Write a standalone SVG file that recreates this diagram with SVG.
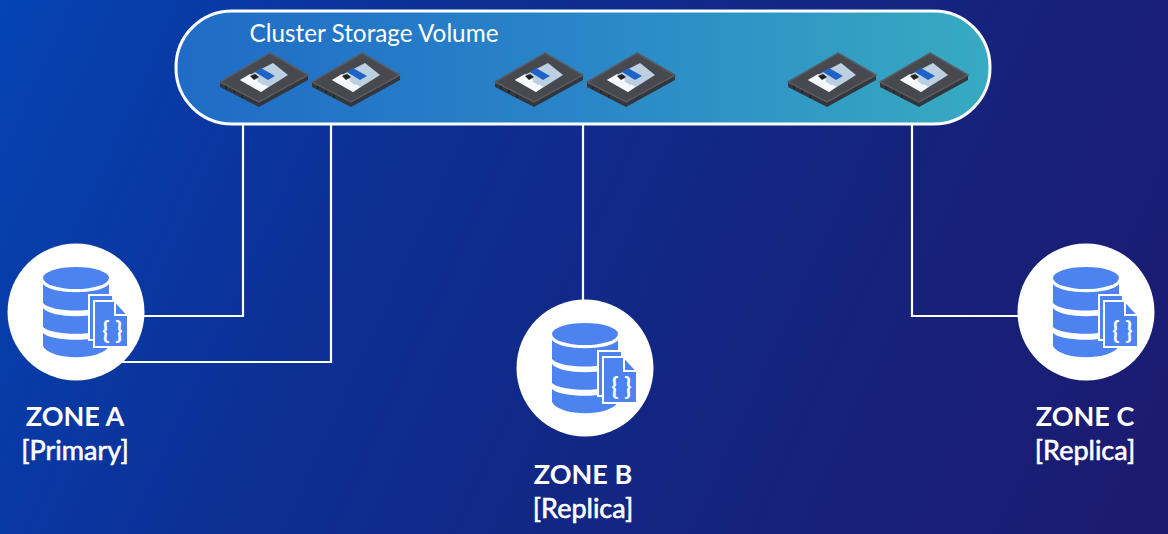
<svg xmlns="http://www.w3.org/2000/svg" xmlns:xlink="http://www.w3.org/1999/xlink" width="1168" height="534" viewBox="0 0 1168 534">
<style>
.t{font-family:Lato,"Liberation Sans",sans-serif;fill:#fff;text-anchor:middle}
.z{font-size:27px;font-weight:700}
.r{font-size:27px;font-weight:400;stroke:#fff;stroke-width:.6px}
.l{fill:none;stroke:#fff;stroke-width:2.2}
</style>
<defs>
<linearGradient id="bg" x1="0" y1="0" x2="1168" y2="534" gradientUnits="userSpaceOnUse"><stop offset="0" stop-color="#0544b4"/><stop offset=".3" stop-color="#0c3096"/><stop offset=".65" stop-color="#14247f"/><stop offset="1" stop-color="#1d1a70"/></linearGradient>
<linearGradient id="pill" x1="176" y1="0" x2="990" y2="0" gradientUnits="userSpaceOnUse"><stop offset="0" stop-color="#1f6bc6"/><stop offset=".5" stop-color="#2a86c8"/><stop offset="1" stop-color="#37abc1"/></linearGradient>
<g id="ssd">
<path d="M-44 2V7L-5 27 44 0V-5Z" fill="#33373d"/>
<path d="M6 -27L44 -5-5 22-44 2Z" fill="#48494e" stroke="#5a5c62" stroke-width="1.5"/>
<path d="M9 -17L24 -5-3 12-24 0Z" fill="#bcd0e2"/>
<path d="M-24 0L-14 -6 4 7-3 12Z" fill="#f6f8fb"/>
<path d="M-9 -8L-3 -12 11 -4 4 0Z" fill="#1f62c8"/>
<path d="M-14 -4L-9 -6-5 -3-10 0Z" fill="#222"/>
<path d="M-7 1L-3 -1 3 3-1 5Z" fill="#b9cfe2"/>
<path d="M-38 6V9M-30 10V13M-22 15V18" stroke="#1f2226" stroke-width="1.500"/>
</g>
<g id="db">
<circle r="68.5" fill="#fff"/>
<path d="M-33 -34A33 11 0 0 1 33 -34A33 11 0 0 1 -33 -34Z" fill="#4d83f0"/>
<path d="M-33 -28C-25 -17 25 -17 33 -28V-9C25 1 -25 1 -33 -9Z" fill="#4d83f0"/>
<path d="M-33 -4C-25 7 25 7 33 -4V15C25 24 -25 24 -33 15Z" fill="#4d83f0"/>
<path d="M-33 21C-25 30 25 30 33 21V34C25 49 -25 49 -33 34Z" fill="#4d83f0"/>
<path d="M13 -17H37V28H13Z" fill="#4d83f0" stroke="#fff" stroke-width="2"/>
<path d="M18 -11H39L52 3V35H18Z" fill="#4d83f0" stroke="#fff" stroke-width="2"/>
<path d="M39 -10V3H52" fill="none" stroke="#fff" stroke-width="2"/>
<text class="t" x="30" y="27" font-size="24" font-weight="700">{</text>
<text class="t" x="43" y="27" font-size="24" font-weight="700">}</text>
</g>
</defs>
<rect id="background" width="1168" height="534" fill="url(#bg)"/>
<g id="connectors">
<path class="l" d="M243 124V316H130"/>
<path class="l" d="M331 124V362H110"/>
<path class="l" d="M583 124V300"/>
<path class="l" d="M912 124V316H1030"/>
</g>
<g id="volume">
<rect x="176" y="11" width="814" height="113" rx="56" fill="url(#pill)" stroke="#fff" stroke-width="3"/>
<text class="t" x="374" y="42" font-size="24.300">Cluster Storage Volume</text>
<use xlink:href="#ssd" x="264" y="80"/>
<use xlink:href="#ssd" x="356" y="80"/>
<use xlink:href="#ssd" x="539" y="80"/>
<use xlink:href="#ssd" x="631" y="80"/>
<use xlink:href="#ssd" x="832" y="80"/>
<use xlink:href="#ssd" x="924" y="80"/>
</g>
<g id="zone-a"><use xlink:href="#db" x="76" y="312"/>
<text class="t z" x="75" y="426">ZONE A</text><text class="t r" x="75" y="460">[Primary]</text></g>
<g id="zone-b"><use xlink:href="#db" x="585" y="368"/>
<text class="t z" x="583" y="484">ZONE B</text><text class="t r" x="583" y="518">[Replica]</text></g>
<g id="zone-c"><use xlink:href="#db" x="1086" y="312"/>
<text class="t z" x="1085" y="426">ZONE C</text><text class="t r" x="1085" y="460">[Replica]</text></g>
</svg>
